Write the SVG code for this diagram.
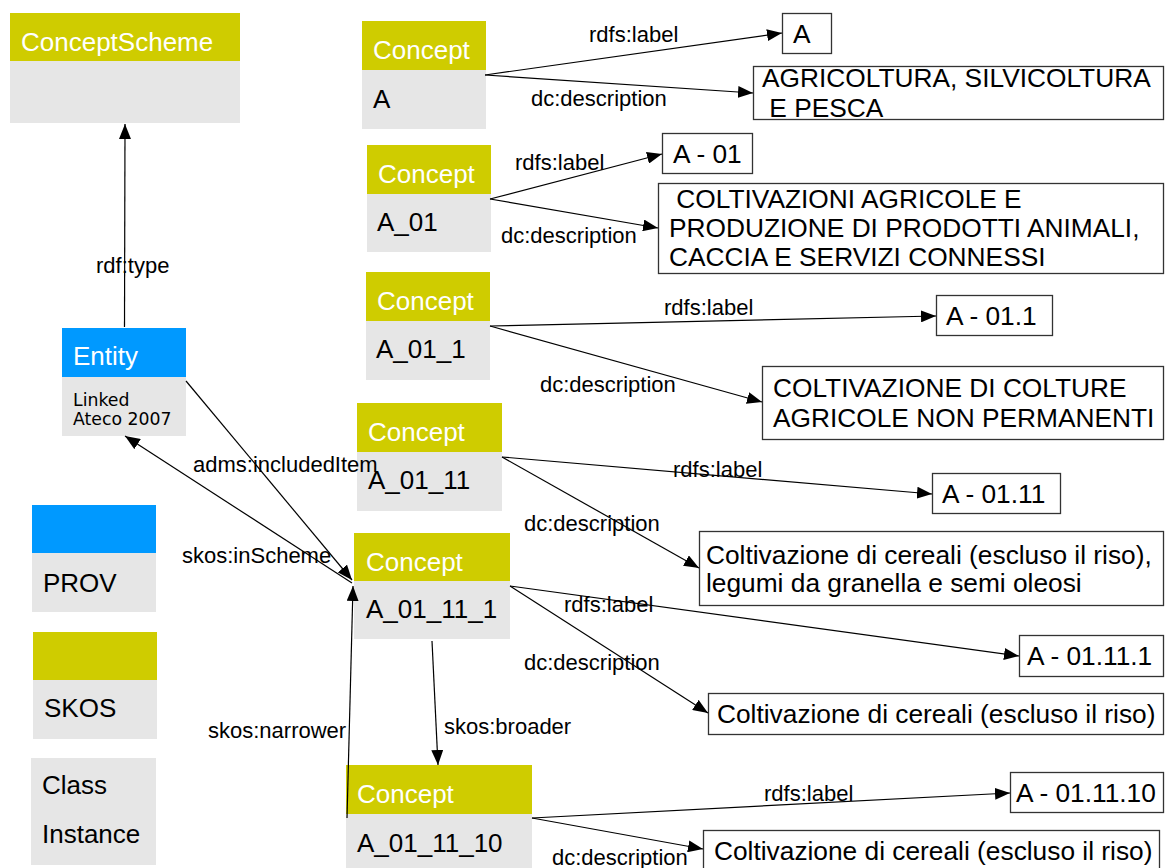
<svg xmlns="http://www.w3.org/2000/svg" width="1165" height="868" viewBox="0 0 1165 868">
<style>
text{font-family:"Liberation Sans",Arial,sans-serif;white-space:pre;}
.hy{fill:#CFCC00;}
.hb{fill:#0099FF;}
.bd{fill:#E6E6E6;}
.ht{fill:#FFFFFF;font-size:26px;}
.bt{fill:#000000;font-size:26px;}
.sm{fill:#000000;font-size:17.3px;font-family:"DejaVu Sans",sans-serif;}
.lit{fill:#FFFFFF;stroke:#333333;stroke-width:1.3;}
.lt{fill:#000000;font-size:26.3px;}
.el{fill:#000000;font-size:22px;}
.cn path{fill:none;stroke:#000000;stroke-width:1.2;marker-end:url(#ah);}
</style>
<defs>
<marker id="ah" markerUnits="userSpaceOnUse" markerWidth="16" markerHeight="12" refX="15" refY="6" orient="auto">
<path d="M0,0 L15,6 L0,12 z" fill="#000000"/>
</marker>
</defs>
<rect width="1165" height="868" fill="#FFFFFF"/>

<g id="conceptscheme">
<rect class="hy" x="10" y="13" width="230" height="48"/>
<rect class="bd" x="10" y="61" width="230" height="62"/>
<text class="ht" x="21" y="51">ConceptScheme</text>
</g>

<g id="entity">
<rect class="hb" x="62" y="328" width="124" height="49"/>
<rect class="bd" x="62" y="377" width="124" height="59"/>
<text class="ht" x="73" y="365">Entity</text>
<text class="sm" x="73" y="406">Linked</text>
<text class="sm" x="73" y="425">Ateco 2007</text>
</g>

<g id="legend-prov">
<rect class="hb" x="32" y="505" width="124" height="48"/>
<rect class="bd" x="32" y="553" width="124" height="59"/>
<text class="bt" x="43" y="592">PROV</text>
</g>
<g id="legend-skos">
<rect class="hy" x="33" y="632" width="124" height="48"/>
<rect class="bd" x="33" y="680" width="124" height="59"/>
<text class="bt" x="44" y="717">SKOS</text>
</g>
<g id="legend-class">
<rect class="bd" x="31" y="758" width="125" height="107"/>
<text class="bt" x="42" y="794">Class</text>
<text class="bt" x="42" y="843">Instance</text>
</g>

<g id="concept-A">
<rect class="hy" x="362" y="21" width="124" height="49"/>
<rect class="bd" x="362" y="70" width="124" height="59"/>
<text class="ht" x="373" y="59">Concept</text>
<text class="bt" x="373" y="108">A</text>
</g>
<g id="concept-A_01">
<rect class="hy" x="367" y="145" width="124" height="49"/>
<rect class="bd" x="367" y="194" width="124" height="58"/>
<text class="ht" x="378" y="183">Concept</text>
<text class="bt" x="377" y="231">A_01</text>
</g>
<g id="concept-A_01_1">
<rect class="hy" x="366" y="272" width="124" height="49"/>
<rect class="bd" x="366" y="321" width="124" height="59"/>
<text class="ht" x="377" y="310">Concept</text>
<text class="bt" x="376" y="358">A_01_1</text>
</g>
<g id="concept-A_01_11">
<rect class="hy" x="357" y="403" width="145" height="49"/>
<rect class="bd" x="357" y="452" width="145" height="59"/>
<text class="ht" x="368" y="441">Concept</text>
<text class="bt" x="368" y="489">A_01_11</text>
</g>
<g id="concept-A_01_11_1">
<rect class="hy" x="354" y="533" width="156" height="48"/>
<rect class="bd" x="354" y="581" width="156" height="58"/>
<text class="ht" x="366" y="571">Concept</text>
<text class="bt" x="366" y="618">A_01_11_1</text>
</g>
<g id="concept-A_01_11_10">
<rect class="hy" x="346" y="765" width="186" height="49"/>
<rect class="bd" x="346" y="814" width="186" height="54"/>
<text class="ht" x="357" y="803">Concept</text>
<text class="bt" x="357" y="852">A_01_11_10</text>
</g>

<g id="lit-A">
<rect class="lit" x="782.5" y="13.5" width="49" height="40"/>
<text class="lt" x="793" y="43">A</text>
</g>
<g id="lit-A-desc">
<rect class="lit" x="753.5" y="66.5" width="410" height="53"/>
<text class="lt" x="762" y="87">AGRICOLTURA, SILVICOLTURA</text>
<text class="lt" x="762" y="117"> E PESCA</text>
</g>
<g id="lit-A01">
<rect class="lit" x="662.5" y="133.5" width="90" height="40"/>
<text class="lt" x="673" y="163">A - 01</text>
</g>
<g id="lit-A01-desc">
<rect class="lit" x="658.5" y="183.5" width="505" height="90"/>
<text class="lt" x="669" y="208"> COLTIVAZIONI AGRICOLE E</text>
<text class="lt" x="669" y="237">PRODUZIONE DI PRODOTTI ANIMALI,</text>
<text class="lt" x="669" y="266">CACCIA E SERVIZI CONNESSI</text>
</g>
<g id="lit-A011">
<rect class="lit" x="936.5" y="295.5" width="116" height="40"/>
<text class="lt" x="946" y="325">A - 01.1</text>
</g>
<g id="lit-A011-desc">
<rect class="lit" x="762.5" y="366.5" width="401" height="73"/>
<text class="lt" x="773" y="397">COLTIVAZIONE DI COLTURE</text>
<text class="lt" x="773" y="427">AGRICOLE NON PERMANENTI</text>
</g>
<g id="lit-A0111">
<rect class="lit" x="932.5" y="473.5" width="128" height="40"/>
<text class="lt" x="942" y="503">A - 01.11</text>
</g>
<g id="lit-A0111-desc">
<rect class="lit" x="699.5" y="531.5" width="464" height="74"/>
<text class="lt" x="706" y="564">Coltivazione di cereali (escluso il riso),</text>
<text class="lt" x="706" y="592">legumi da granella e semi oleosi</text>
</g>
<g id="lit-A01111">
<rect class="lit" x="1019.5" y="635.5" width="144" height="41"/>
<text class="lt" x="1027" y="665">A - 01.11.1</text>
</g>
<g id="lit-A01111-desc">
<rect class="lit" x="708.5" y="693.5" width="455" height="41"/>
<text class="lt" x="717" y="723">Coltivazione di cereali (escluso il riso)</text>
</g>
<g id="lit-A011110">
<rect class="lit" x="1010.5" y="772.5" width="153" height="40"/>
<text class="lt" x="1016" y="802">A - 01.11.10</text>
</g>
<g id="lit-A011110-desc">
<rect class="lit" x="703.5" y="830.5" width="456" height="45"/>
<text class="lt" x="714" y="860">Coltivazione di cereali (escluso il riso)</text>
</g>

<g id="connectors" class="cn">
<path d="M124.5,327 L125,124"/>
<path d="M186,381 L352,580"/>
<path d="M352,583 L125,436"/>
<path d="M347,818 L353,586"/>
<path d="M432,641 L438,765"/>
<path d="M485,75 L782,33"/>
<path d="M485,75 L753,93"/>
<path d="M490,199 L662,154"/>
<path d="M490,199 L658,228"/>
<path d="M490,326 L936,316"/>
<path d="M490,326 L762,402"/>
<path d="M502,457 L932,494"/>
<path d="M502,457 L699,568"/>
<path d="M510,586 L1019,656"/>
<path d="M510,586 L708,713"/>
<path d="M532,818 L1010,793"/>
<path d="M532,818 L703,849"/>
</g>
<g id="edge-labels">
<text class="el" x="96" y="273">rdf:type</text>
<text class="el" x="193" y="472">adms:includedItem</text>
<text class="el" x="182" y="563">skos:inScheme</text>
<text class="el" x="208" y="738">skos:narrower</text>
<text class="el" x="444" y="734">skos:broader</text>
<text class="el" x="589" y="42">rdfs:label</text>
<text class="el" x="531" y="106">dc:description</text>
<text class="el" x="515" y="170">rdfs:label</text>
<text class="el" x="501" y="243">dc:description</text>
<text class="el" x="664" y="315">rdfs:label</text>
<text class="el" x="540" y="392">dc:description</text>
<text class="el" x="673" y="477">rdfs:label</text>
<text class="el" x="524" y="531">dc:description</text>
<text class="el" x="564" y="612">rdfs:label</text>
<text class="el" x="524" y="670">dc:description</text>
<text class="el" x="764" y="801">rdfs:label</text>
<text class="el" x="552" y="865">dc:description</text>
</g>
</svg>
